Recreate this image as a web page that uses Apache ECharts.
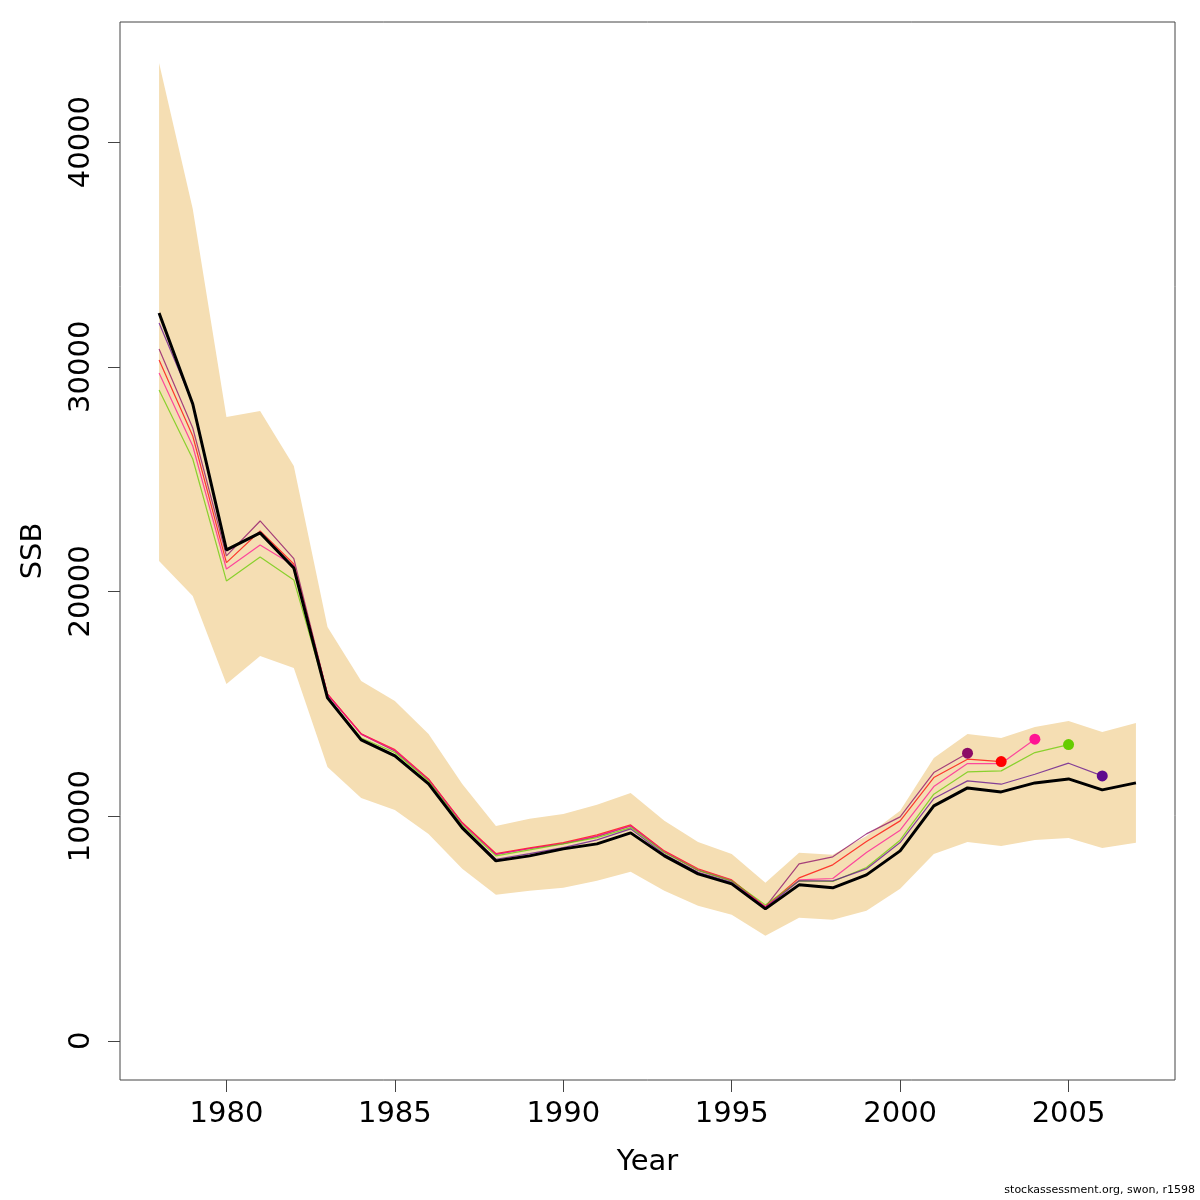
<!DOCTYPE html>
<html>
<head>
<meta charset="utf-8">
<title>SSB</title>
<script src="https://cdn.jsdelivr.net/npm/echarts@6/dist/echarts.min.js"></script>
<style>
    html, body { margin: 0; padding: 0; background: #fff; }
    #chartDiv { width: 1200px; height: 1200px; }
</style>
</head>
<body>
<div id="chartDiv"></div>
<script>
    // years and the SSB estimate with its confidence band
    var years = [1978, 1979, 1980, 1981, 1982, 1983, 1984, 1985, 1986, 1987,
        1988, 1989, 1990, 1991, 1992, 1993, 1994, 1995, 1996, 1997,
        1998, 1999, 2000, 2001, 2002, 2003, 2004, 2005, 2006, 2007];
    var ssb = [32392, 28343, 21847, 22603, 21046, 15261, 13393, 12681, 11435, 9477,
        8009, 8231, 8543, 8765, 9255, 8231, 7430, 6986, 5873, 6941,
        6808, 7386, 8454, 10456, 11257, 11079, 11479, 11657, 11168, 11479];
    var ssbHigh = [43515, 37019, 27764, 28031, 25584, 18421, 16018, 15128, 13660, 11435,
        9566, 9878, 10100, 10501, 11034, 9789, 8854, 8320, 7030, 8365,
        8276, 9121, 10234, 12592, 13660, 13482, 13971, 14238, 13749, 14149];
    var ssbLow = [21357, 19800, 15884, 17130, 16596, 12191, 10812, 10278, 9210, 7653,
        6496, 6674, 6808, 7119, 7519, 6674, 6007, 5606, 4672, 5473,
        5384, 5784, 6763, 8320, 8854, 8676, 8943, 9032, 8587, 8810];

    // retrospective peels, each starts in 1978
    var peel2002 = [30790, 27275, 21580, 23137, 21460, 15420, 13650, 12900, 11620, 9680,
        8300, 8560, 8780, 9100, 9560, 8400, 7580, 7120, 5960, 7875,
        8187, 9210, 9967, 11938, 12800];
    var peel2003 = [30300, 26919, 21280, 22692, 21220, 15440, 13670, 12960, 11657, 9715,
        8336, 8590, 8823, 9166, 9611, 8454, 7653, 7164, 5962, 7253,
        7831, 8870, 9789, 11716, 12533, 12427];
    var peel2004 = [29722, 26474, 21000, 22069, 21150, 15420, 13650, 12930, 11620, 9690,
        8310, 8560, 8790, 9120, 9570, 8420, 7620, 7140, 5960, 7164,
        7224, 8380, 9374, 11316, 12338, 12338, 13424];
    var peel2005 = [28966, 25895, 20467, 21535, 20512, 15300, 13480, 12830, 11560, 9600,
        8230, 8500, 8765, 9046, 9490, 8380, 7600, 7120, 6050, 7119,
        7090, 7711, 8930, 10977, 11969, 12013, 12830, 13184];
    var peel2006 = [31947, 28387, 21800, 22650, 21080, 15300, 13430, 12720, 11480, 9530,
        8080, 8330, 8600, 8943, 9433, 8300, 7500, 7050, 5920, 7119,
        7120, 7650, 8823, 10781, 11568, 11421, 11866, 12356, 11791];

    var peels = [peel2002, peel2003, peel2004, peel2005, peel2006];
    var peelColors = ['#8b0a66', '#ff0000', '#ff1493', '#66cc00', '#5e0a8e'];

    var xTicks = [1980, 1985, 1990, 1995, 2000, 2005];
    var yTicks = [0, 10000, 20000, 30000, 40000];

    var fontFamily = 'DejaVu Sans';

    function pairs(values) {
        var out = [];
        for (var i = 0; i < values.length; i++) {
            out.push([years[i], values[i]]);
        }
        return out;
    }

    var series = [];

    // confidence band drawn as one polygon
    series.push({
        type: 'custom',
        silent: true,
        z: 1,
        data: [0],
        renderItem: function (params, api) {
            var pts = [];
            for (var i = 0; i < years.length; i++) {
                pts.push(api.coord([years[i], ssbHigh[i]]));
            }
            for (var j = years.length - 1; j >= 0; j--) {
                pts.push(api.coord([years[j], ssbLow[j]]));
            }
            return {
                type: 'polygon',
                shape: { points: pts },
                style: { fill: '#f5deb3' }
            };
        }
    });

    peels.forEach(function (p, k) {
        series.push({
            type: 'line',
            data: pairs(p),
            showSymbol: false,
            silent: true,
            z: 2,
            lineStyle: { color: peelColors[k], width: 1.2, opacity: 0.75 }
        });
        series.push({
            type: 'scatter',
            data: [[years[p.length - 1], p[p.length - 1]]],
            symbol: 'circle',
            symbolSize: 11,
            silent: true,
            z: 4,
            itemStyle: { color: peelColors[k], opacity: 1 }
        });
    });

    series.push({
        type: 'line',
        data: pairs(ssb),
        showSymbol: false,
        silent: true,
        z: 3,
        lineStyle: { color: '#000', width: 3 }
    });

    var chart = echarts.init(document.getElementById('chartDiv'), null, { renderer: 'canvas' });
    chart.setOption({
        animation: false,
        backgroundColor: '#fff',
        textStyle: { fontFamily: fontFamily },
        grid: {
            left: 120, top: 22, width: 1055, height: 1058,
            show: true, borderColor: '#444', borderWidth: 1,
            backgroundColor: 'transparent'
        },
        xAxis: {
            type: 'value',
            min: 1976.84,
            max: 2008.16,
            name: 'Year',
            nameLocation: 'middle',
            nameGap: 68,
            nameTextStyle: { fontSize: 29, color: '#000', fontFamily: fontFamily },
            axisLine: { show: false, onZero: false },
            splitLine: { show: false },
            axisTick: { show: true, length: 12, customValues: xTicks, lineStyle: { color: '#444' } },
            axisLabel: {
                customValues: xTicks, fontSize: 29, color: '#000', margin: 20,
                fontFamily: fontFamily,
                formatter: function (v) { return String(v); }
            }
        },
        yAxis: {
            type: 'value',
            min: -1744,
            max: 45344,
            name: 'SSB',
            nameLocation: 'middle',
            nameGap: 72,
            nameRotate: 90,
            nameTextStyle: { fontSize: 29, color: '#000', fontFamily: fontFamily },
            axisLine: { show: false, onZero: false },
            splitLine: { show: false },
            axisTick: { show: true, length: 12, customValues: yTicks, lineStyle: { color: '#444' } },
            axisLabel: {
                customValues: yTicks, fontSize: 29, color: '#000', margin: 24,
                rotate: 90, fontFamily: fontFamily,
                formatter: function (v) { return String(v); }
            }
        },
        graphic: [{
            type: 'text',
            right: 5,
            bottom: 4,
            style: {
                text: 'stockassessment.org, swon, r1598',
                font: '11px ' + fontFamily,
                fill: '#000'
            }
        }],
        series: series
    });
</script>
</body>
</html>
